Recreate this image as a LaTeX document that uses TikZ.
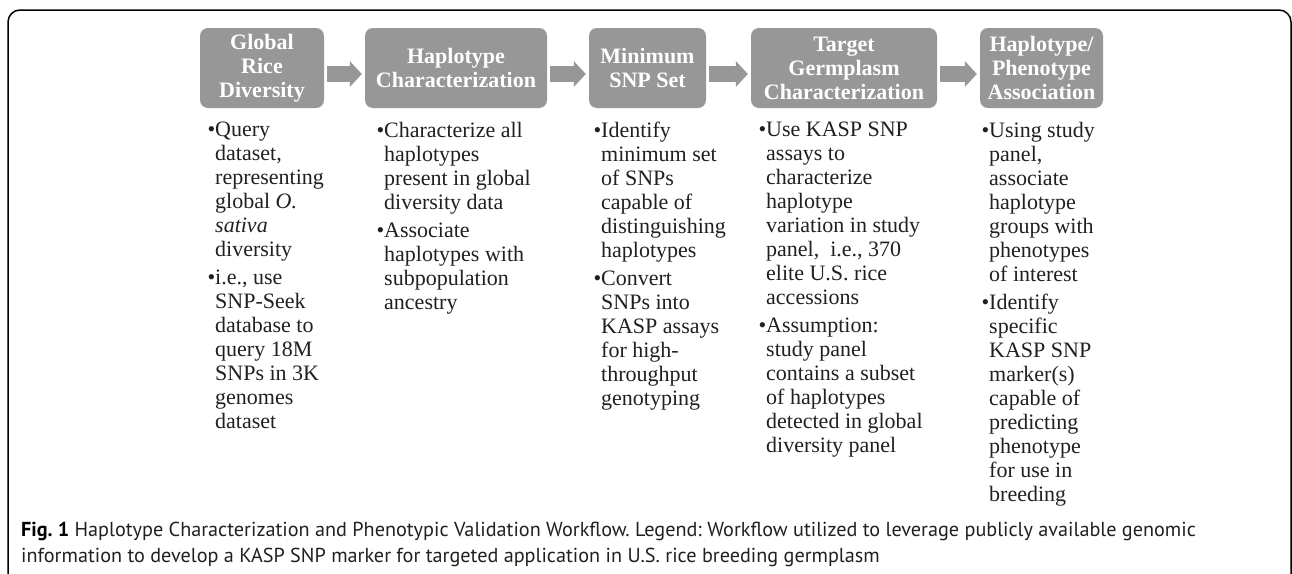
\documentclass[tikz,border=0pt]{standalone}
\usepackage{fontspec}
\setmainfont{Liberation Serif}
\setsansfont{PT Sans}
\usepackage{tikz}
\usetikzlibrary{arrows.meta}
\definecolor{boxgray}{RGB}{151,151,151}
\definecolor{inkgray}{RGB}{35,31,32}
\frenchspacing

\begin{document}
\begin{tikzpicture}[x=1pt,y=-1pt]
      \tikzstyle{head}=[fill=boxgray,rounded corners=8pt,minimum height=80pt,inner sep=0pt,text=white,align=center,font=\fontsize{22}{24}\selectfont\bfseries]
      \tikzstyle{body}=[anchor=north west,inner sep=0pt,align=left,text=inkgray,font=\fontsize{22}{24}\selectfont]
      \tikzstyle{flow}=[draw=boxgray,line width=16pt,-{Triangle[width=26pt,length=12pt,line width=0pt]},shorten <=3pt,shorten >=3pt]
      \clip (0,0) rectangle (1292,573);
      \draw[line width=1.5pt,rounded corners=12pt] (8,600) -- (8,10) -- (1291,10) -- (1291,600);

      \node[head,minimum width=124pt] (glob) at (262,68) {Global\\Rice\\Diversity};
      \node[head,minimum width=182pt] (hapl) at (456,68) {Haplotype\\Characterization};
      \node[head,minimum width=117pt] (minset) at (647.5,68) {Minimum\\SNP Set};
      \node[head,minimum width=186pt] (target) at (844,68) {Target\\Germplasm\\Characterization};
      \node[head,minimum width=123pt] (assoc) at (1041.5,68) {Haplotype/\\Phenotype\\Association};

      \draw[flow] ([yshift=-6pt]glob.east) -- ([yshift=-6pt]hapl.west);
      \draw[flow] ([yshift=-6pt]hapl.east) -- ([yshift=-6pt]minset.west);
      \draw[flow] ([yshift=-6pt]minset.east) -- ([yshift=-6pt]target.west);
      \draw[flow] ([yshift=-6pt]target.east) -- ([yshift=-6pt]assoc.west);

      \node[body] (globtxt) at (215,122) {\llap{\textbullet}Query\\dataset,\\representing\\global \emph{O.}\\\emph{sativa}\\diversity\\[4pt]\llap{\textbullet}i.e., use\\SNP-Seek\\database to\\query 18M\\SNPs in 3K\\genomes\\dataset};
      \node[body] (hapltxt) at (384,122) {\llap{\textbullet}Characterize all\\haplotypes\\present in global\\diversity data\\[4pt]\llap{\textbullet}Associate\\haplotypes with\\subpopulation\\ancestry};
      \node[body] (minsettxt) at (601,122) {\llap{\textbullet}Identify\\minimum set\\of SNPs\\capable of\\distinguishing\\haplotypes\\[4pt]\llap{\textbullet}Convert\\SNPs into\\KASP assays\\for high-\\throughput\\genotyping};
      \node[body] (targettxt) at (766,122) {\llap{\textbullet}Use KASP SNP\\assays to\\characterize\\haplotype\\variation in study\\panel,\ \ i.e., 370\\elite U.S. rice\\accessions\\[4pt]\llap{\textbullet}Assumption:\\study panel\\contains a subset\\of haplotypes\\detected in global\\diversity panel};
      \node[body] (assoctxt) at (989,122) {\llap{\textbullet}Using study\\panel,\\associate\\haplotype\\groups with\\phenotypes\\of interest\\[4pt]\llap{\textbullet}Identify\\specific\\KASP SNP\\marker(s)\\capable of\\predicting\\phenotype\\for use in\\breeding};

      \node[anchor=north west,inner sep=0pt,align=left,text=inkgray,font=\sffamily\fontsize{20.2}{26}\selectfont] (cap) at (21,522) {\textbf{\color{black}Fig. 1} Haplotype Characterization and Phenotypic Validation Workflow. Legend: Workflow utilized to leverage publicly available genomic\\information to develop a KASP SNP marker for targeted application in U.S. rice breeding germplasm};
    \end{tikzpicture}
\end{document}
